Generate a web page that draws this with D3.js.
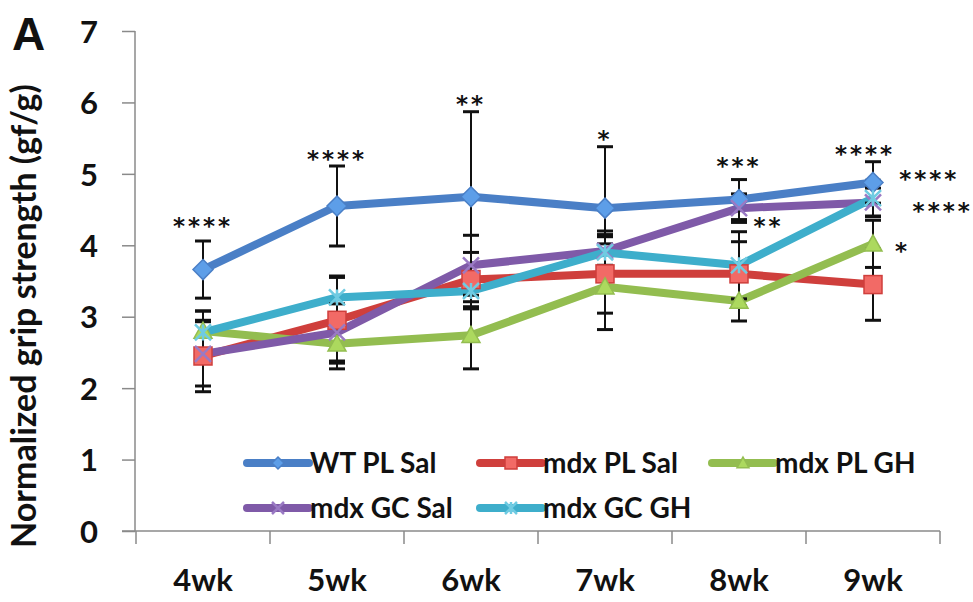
<!DOCTYPE html>
<html>
<head>
<meta charset="utf-8">
<script src="https://cdn.jsdelivr.net/npm/d3@7"></script>
<style>
  html, body { margin: 0; padding: 0; background: #fff; }
  svg { display: block; }
  text { font-family: Lato, "Open Sans", sans-serif; font-weight: 700; fill: #111; }
</style>
</head>
<body>
<svg id="chart" width="973" height="602"></svg>
<script>
// Categories
const weeks = ["4wk", "5wk", "6wk", "7wk", "8wk", "9wk"];
const yTicks = [0, 1, 2, 3, 4, 5, 6, 7];

// Series means and error (+/-)
const wtPlSal = [3.66, 4.55, 4.68, 4.52, 4.64, 4.88];
const wtPlSalErr = [0.40, 0.56, 1.19, 0.86, 0.28, 0.29];
const mdxPlSal = [2.45, 2.95, 3.52, 3.60, 3.60, 3.45];
const mdxPlSalErr = [0.50, 0.60, 0.38, 0.55, 0.45, 0.50];
const mdxPlGh = [2.80, 2.62, 2.74, 3.42, 3.22, 4.02];
const mdxPlGhErr = [0.28, 0.35, 0.47, 0.60, 0.28, 0.33];
const mdxGcSal = [2.48, 2.78, 3.72, 3.92, 4.52, 4.60];
const mdxGcSalErr = [0.45, 0.40, 0.42, 0.20, 0.20, 0.20];
const mdxGcGh = [2.78, 3.27, 3.36, 3.90, 3.72, 4.66];
const mdxGcGhErr = [0.30, 0.30, 0.25, 0.30, 0.47, 0.25];

// Significance stars: week index, offset within band, value level
const starText = ["****", "****", "**", "*", "***", "**", "****", "****", "****", "*"];
const starWeek = [0, 1, 2, 3, 4, 4, 5, 5, 5, 5];
const starShift = [0, 0, 0, 0, 0, 0.22, -0.06, 0.42, 0.52, 0.22];
const starLevel = [4.35, 5.29, 6.06, 5.57, 5.19, 4.35, 5.36, 5.01, 4.56, 4.0];

const series = [
  { name: "WT PL Sal", values: wtPlSal, err: wtPlSalErr, line: "#4a7fc6", fill: "#5d9ee8", marker: "diamond" },
  { name: "mdx PL Sal", values: mdxPlSal, err: mdxPlSalErr, line: "#cf3f3c", fill: "#f26a66", marker: "square" },
  { name: "mdx PL GH", values: mdxPlGh, err: mdxPlGhErr, line: "#93bd50", fill: "#acd95e", marker: "triangle" },
  { name: "mdx GC Sal", values: mdxGcSal, err: mdxGcSalErr, line: "#7f5aa8", fill: "#9a7ac4", marker: "x" },
  { name: "mdx GC GH", values: mdxGcGh, err: mdxGcGhErr, line: "#3eaecb", fill: "#6fcbe2", marker: "star" }
];

const svg = d3.select("#chart");
const axisColor = "#8a8a8a";

const x = d3.scaleBand().domain(weeks).range([136, 940]);
const cx = w => x(w) + x.bandwidth() / 2;
const y = d3.scaleLinear().domain([0, 7]).range([531, 31]);

// Panel letter
svg.append("text").attr("x", 12).attr("y", 50)
  .style("font-family", "'Liberation Sans', Arial, sans-serif")
  .style("font-size", "46px").text("A");

// Y axis
const yAxis = svg.append("g").attr("transform", "translate(135,0)")
  .call(d3.axisLeft(y).tickValues(yTicks).tickFormat(d3.format("d")).tickSize(13).tickPadding(24));
yAxis.select(".domain").attr("stroke", axisColor).attr("stroke-width", 1.5).attr("d", "M0,31V531");
yAxis.selectAll(".tick line").attr("stroke", axisColor).attr("stroke-width", 1.5);
yAxis.selectAll(".tick text").attr("dy", "0.36em")
  .style("font-size", "31px").style("font-family", "Lato, sans-serif").attr("fill", "#111");

// X axis
const xAxis = svg.append("g").attr("transform", "translate(0,531)");
xAxis.append("line").attr("x1", 122).attr("x2", x.range()[1])
  .attr("stroke", axisColor).attr("stroke-width", 1.5);
xAxis.selectAll(".xtick").data(weeks.map(w => x(w)).concat([x.range()[1]]))
  .join("line").attr("class", "xtick")
  .attr("x1", d => d).attr("x2", d => d).attr("y1", 0).attr("y2", 13)
  .attr("stroke", axisColor).attr("stroke-width", 1.5);
xAxis.selectAll(".xlabel").data(weeks).join("text").attr("class", "xlabel")
  .attr("x", d => cx(d)).attr("y", 60).attr("text-anchor", "middle")
  .style("font-size", "31px").text(d => d);

// Y title
svg.append("text")
  .attr("transform", "translate(36,316) rotate(-90)")
  .attr("text-anchor", "middle")
  .style("font-size", "34px")
  .text("Normalized grip strength (gf/g)");

// Marker drawing
function drawMarker(g, type, fill, stroke, s) {
  if (type === "diamond") {
    g.append("path").attr("d", `M0,${-s}L${s},0L0,${s}L${-s},0Z`)
      .attr("fill", fill).attr("stroke", stroke).attr("stroke-width", 1.5);
  } else if (type === "square") {
    g.append("rect").attr("x", -s).attr("y", -s).attr("width", 2 * s).attr("height", 2 * s)
      .attr("fill", fill).attr("stroke", stroke).attr("stroke-width", 1.5);
  } else if (type === "triangle") {
    g.append("path").attr("d", `M0,${-s}L${s},${s * 0.8}L${-s},${s * 0.8}Z`)
      .attr("fill", fill).attr("stroke", stroke).attr("stroke-width", 1.5);
  } else if (type === "x") {
    g.append("path").attr("d", `M${-s},${-s}L${s},${s}M${-s},${s}L${s},${-s}`)
      .attr("stroke", fill).attr("stroke-width", 2.5);
  } else if (type === "star") {
    g.append("path").attr("d", `M${-s},${-s}L${s},${s}M${-s},${s}L${s},${-s}M0,${-s}V${s}`)
      .attr("stroke", fill).attr("stroke-width", 2.5);
  }
}

const line = d3.line().x((d, i) => cx(weeks[i])).y(d => y(d));

// Lines
svg.append("g").selectAll("path").data(series).join("path")
  .attr("d", d => line(d.values))
  .attr("fill", "none").attr("stroke", d => d.line)
  .attr("stroke-width", 8).attr("stroke-linejoin", "round");

// Error bars
const eb = svg.append("g");
series.forEach(s => {
  s.values.forEach((v, i) => {
    const px = cx(weeks[i]);
    const lo = v - s.err[i], hi = v + s.err[i];
    eb.append("line").attr("x1", px).attr("x2", px).attr("y1", y(hi)).attr("y2", y(lo))
      .attr("stroke", "#111").attr("stroke-width", 2);
    [lo, hi].forEach(e => {
      eb.append("line").attr("x1", px - 8).attr("x2", px + 8).attr("y1", y(e)).attr("y2", y(e))
        .attr("stroke", "#111").attr("stroke-width", 3);
    });
  });
});

// Markers
series.forEach(s => {
  const size = s.marker === "diamond" ? 10 : (s.marker === "x" || s.marker === "star") ? 8 : 9;
  s.values.forEach((v, i) => {
    const g = svg.append("g").attr("transform", `translate(${cx(weeks[i])},${y(v)})`);
    drawMarker(g, s.marker, s.fill, s.line, size);
  });
});

// Stars
svg.append("g").selectAll("text").data(starText).join("text")
  .attr("x", (d, i) => cx(weeks[starWeek[i]]) + starShift[i] * x.bandwidth())
  .attr("y", (d, i) => y(starLevel[i]) + 14)
  .attr("text-anchor", "middle")
  .style("font-family", "'DejaVu Sans', sans-serif")
  .style("font-weight", "700")
  .style("font-size", "23px")
  .style("letter-spacing", "3px")
  .text(d => d);

// Legend
const legendX = [247, 480, 712];
const legendRow = [463, 508];
series.forEach((s, i) => {
  const lx = legendX[i % 3], ly = legendRow[Math.floor(i / 3)];
  const g = svg.append("g");
  g.append("line").attr("x1", lx).attr("x2", lx + 62).attr("y1", ly).attr("y2", ly)
    .attr("stroke", s.line).attr("stroke-width", 8).attr("stroke-linecap", "round");
  const m = g.append("g").attr("transform", `translate(${lx + 31},${ly})`);
  drawMarker(m, s.marker, s.fill, s.line, 6);
  g.append("text").attr("x", lx + 63).attr("y", ly + 10)
    .style("font-size", "28px").text(s.name);
});
</script>
</body>
</html>
